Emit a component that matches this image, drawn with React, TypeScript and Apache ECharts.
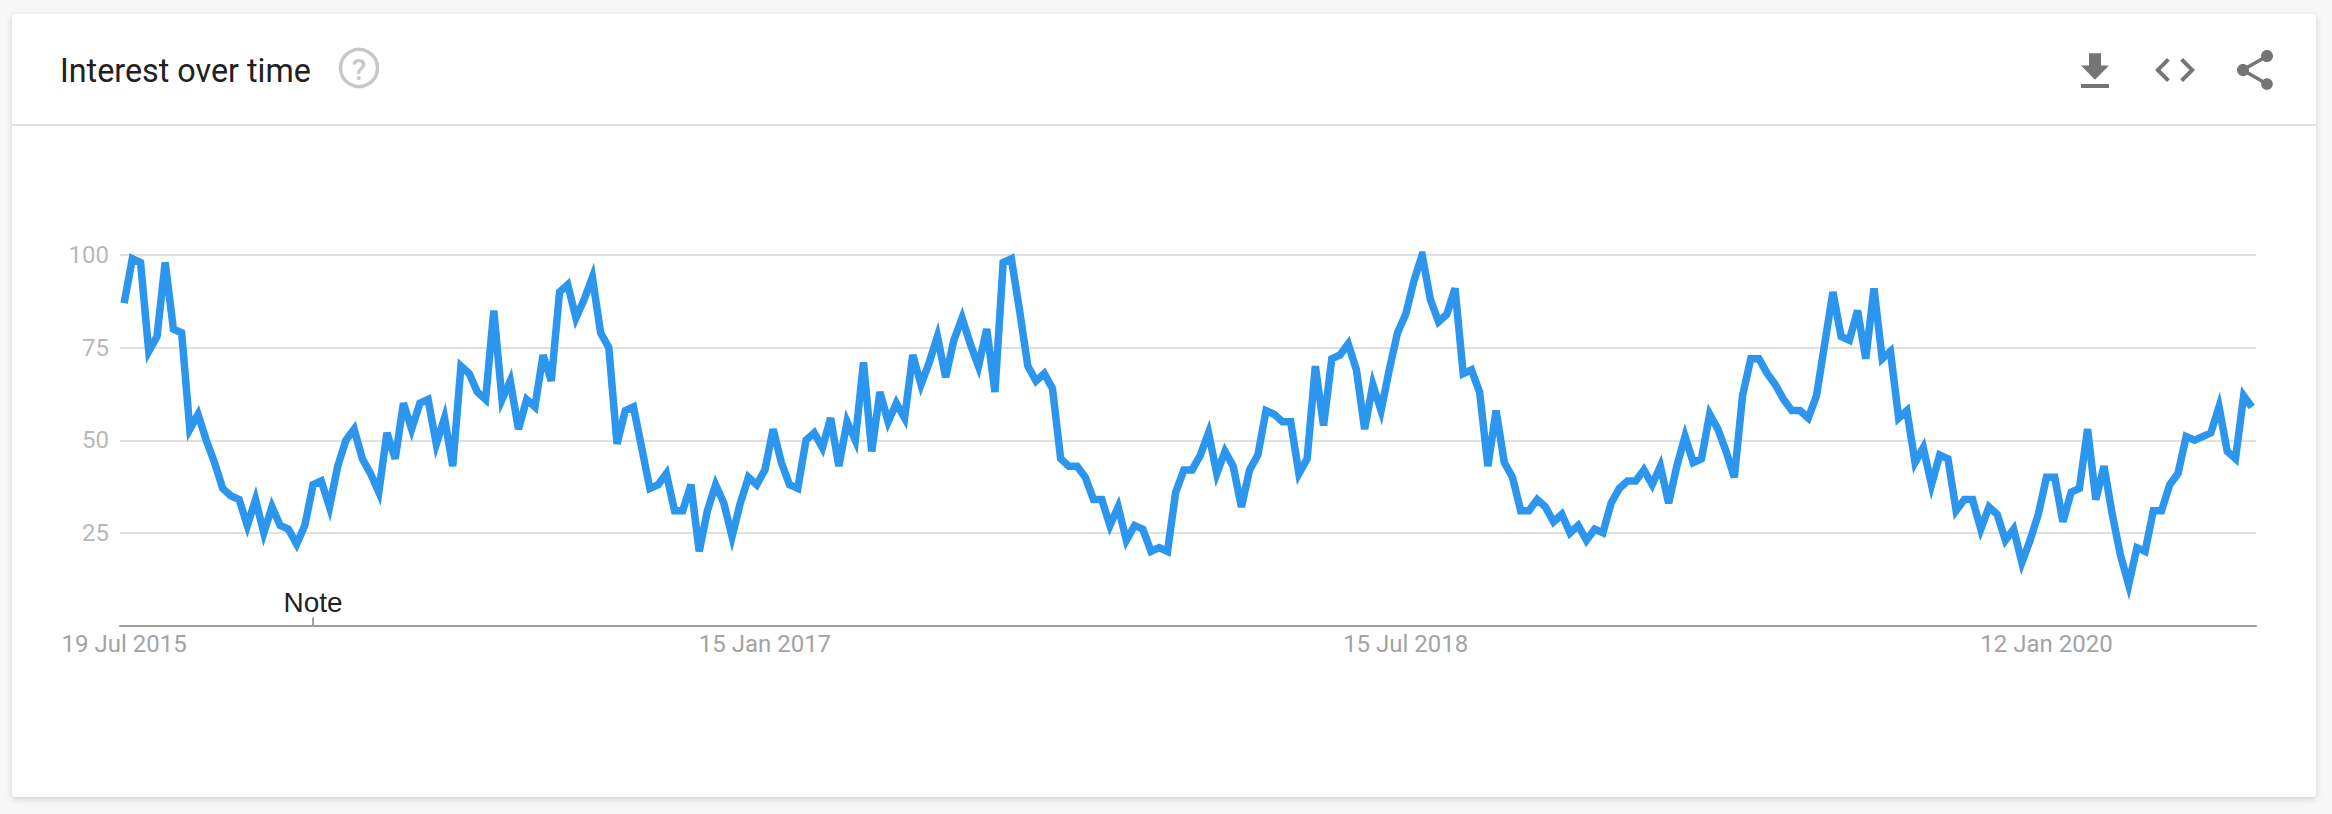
import React, { useEffect, useRef } from "react";
import * as echarts from "echarts";

const title = "Interest over time";
const startDate = Date.UTC(2015, 6, 19);
const monthNames = ["Jan", "Feb", "Mar", "Apr", "May", "Jun", "Jul", "Aug", "Sep", "Oct", "Nov", "Dec"];
const yTicks = [0, 25, 50, 75, 100];
const noteLabel = "Note";
const noteIndex = 23;
const labelledWeeks = [0, 78, 156, 234];

const interest = [
  87, 99, 98, 74, 78, 98, 80, 79, 53, 57, 50, 44, 37, 35, 34, 27, 34, 25, 32, 27,
  26, 22, 27, 38, 39, 32, 43, 50, 53, 45, 41, 36, 52, 45, 60, 53, 60, 61, 49, 56,
  43, 70, 68, 63, 61, 85, 61, 66, 53, 61, 59, 73, 66, 90, 92, 83, 88, 94, 79, 75,
  49, 58, 59, 48, 37, 38, 41, 31, 31, 38, 20, 31, 38, 33, 24, 33, 40, 38, 42, 53,
  44, 38, 37, 50, 52, 48, 56, 43, 55, 50, 71, 47, 63, 55, 60, 56, 73, 65, 71, 78,
  67, 77, 83, 76, 70, 80, 63, 98, 99, 85, 70, 66, 68, 64, 45, 43, 43, 40, 34, 34,
  27, 32, 23, 27, 26, 20, 21, 20, 36, 42, 42, 46, 52, 41, 47, 43, 32, 42, 46, 58,
  57, 55, 55, 41, 45, 70, 54, 72, 73, 76, 69, 53, 65, 58, 69, 79, 84, 93, 100, 88,
  82, 84, 91, 68, 69, 63, 43, 58, 44, 40, 31, 31, 34, 32, 28, 30, 25, 27, 23, 26,
  25, 33, 37, 39, 39, 42, 38, 43, 33, 43, 51, 44, 45, 57, 53, 47, 40, 62, 72, 72,
  68, 65, 61, 58, 58, 56, 62, 76, 90, 78, 77, 85, 72, 91, 72, 74, 56, 58, 44, 48,
  38, 46, 45, 31, 34, 34, 26, 32, 30, 23, 26, 17, 23, 30, 40, 40, 28, 36, 37, 53,
  34, 43, 30, 19, 11, 21, 20, 31, 31, 38, 41, 51, 50, 51, 52, 59, 47, 45, 62, 59,
];

const weeks = interest.map((_, i) => {
  const d = new Date(startDate + i * 7 * 86400000);
  return `${d.getUTCDate()} ${monthNames[d.getUTCMonth()]} ${d.getUTCFullYear()}`;
});

const downloadPath = "M19 9h-4V3H9v6H5l7 7 7-7zM5 18v2h14v-2H5z";
const codePath = "M9.4 16.6L4.8 12l4.6-4.6L8 6l-6 6 6 6 1.4-1.4zm5.2 0l4.6-4.6-4.6-4.6L16 6l6 6-6 6-1.4-1.4z";
const sharePath =
  "M18 16.08c-.76 0-1.44.3-1.96.77L8.91 12.7c.05-.23.09-.46.09-.7s-.04-.47-.09-.7l7.05-4.11c.54.5 1.25.81 2.04.81 1.66 0 3-1.34 3-3s-1.34-3-3-3-3 1.34-3 3c0 .24.04.47.09.7L8.04 9.81C7.5 9.31 6.79 9 6 9c-1.66 0-3 1.34-3 3s1.34 3 3 3c.79 0 1.5-.31 2.04-.81l7.12 4.16c-.05.21-.08.43-.08.65 0 1.61 1.31 2.92 2.92 2.92 1.61 0 2.92-1.31 2.92-2.92s-1.31-2.92-2.92-2.92z";

echarts.graphic.registerShape("iconDownload", echarts.graphic.extendPath(downloadPath, {}));
echarts.graphic.registerShape("iconCode", echarts.graphic.extendPath(codePath, {}));
echarts.graphic.registerShape("iconShare", echarts.graphic.extendPath(sharePath, {}));

export default function App() {
  const ref = useRef<HTMLDivElement>(null);
  useEffect(() => {
    const chart = echarts.init(ref.current!, undefined, { renderer: "svg", width: 2332, height: 814 });
    chart.setOption({
      animation: false,
      backgroundColor: "#f7f7f7",
      graphic: [
        {
          type: "rect",
          z: -10,
          shape: { x: 12, y: 14, width: 2304, height: 783, r: 4 },
          style: { fill: "#ffffff", shadowBlur: 6, shadowColor: "rgba(0,0,0,0.16)", shadowOffsetY: 2 },
        },
        { type: "rect", z: -9, shape: { x: 12, y: 124, width: 2304, height: 2 }, style: { fill: "#e0e0e0" } },
        {
          type: "text",
          x: 60,
          y: 71,
          style: {
            text: title,
            fontFamily: "Roboto",
            fontSize: 32.3,
            fill: "#212121",
            textAlign: "left",
            textVerticalAlign: "middle",
          },
        },
        {
          type: "circle",
          shape: { cx: 359, cy: 68, r: 18.5 },
          style: { fill: "none", stroke: "#c8c8c8", lineWidth: 3.5 },
        },
        {
          type: "text",
          x: 359,
          y: 69,
          style: {
            text: "?",
            fontFamily: "Roboto",
            fontWeight: 500,
            fontSize: 30,
            fill: "#c8c8c8",
            textAlign: "center",
            textVerticalAlign: "middle",
          },
        },
        { type: "iconDownload", x: 2071, y: 47, scaleX: 2, scaleY: 2.05, style: { fill: "#757575" } },
        { type: "iconCode", x: 2151, y: 46, scaleX: 2, scaleY: 2, style: { fill: "#757575" } },
        { type: "iconShare", x: 2231, y: 46, scaleX: 2, scaleY: 2, style: { fill: "#757575" } },
      ],
      grid: { left: 120, width: 2136, top: 255, height: 370.5, containLabel: false },
      xAxis: {
        type: "category",
        data: weeks,
        boundaryGap: true,
        axisLine: { show: true, lineStyle: { color: "#9e9e9e", width: 2 } },
        axisTick: { show: false },
        splitLine: { show: false },
        axisLabel: {
          color: "#a3a3a3",
          fontFamily: "Roboto",
          fontSize: 24,
          margin: 6,
          hideOverlap: false,
          interval: (i: number) => labelledWeeks.includes(i),
        },
      },
      yAxis: {
        type: "value",
        min: yTicks[0],
        max: yTicks[yTicks.length - 1],
        interval: 25,
        axisLine: { show: false },
        axisTick: { show: false },
        splitLine: { show: true, lineStyle: { color: "#e0e0e0", width: 2 } },
        axisLabel: {
          color: "#b8b8b8",
          fontFamily: "Roboto",
          fontSize: 24,
          margin: 11,
          formatter: (v: number) => (v === 0 ? "" : String(v)),
        },
      },
      series: [
        {
          type: "line",
          data: interest,
          showSymbol: false,
          symbol: "none",
          smooth: false,
          clip: true,
          lineStyle: { color: "#2c96ee", width: 7.5, join: "miter", miterLimit: 4.3, cap: "butt" },
          markPoint: {
            silent: true,
            symbol: "rect",
            symbolSize: [2, 8],
            symbolOffset: [0, -4],
            itemStyle: { color: "#9e9e9e" },
            label: {
              show: true,
              position: "top",
              distance: 1,
              formatter: noteLabel,
              color: "#222222",
              fontFamily: "Liberation Sans",
              fontSize: 28,
            },
            data: [{ coord: [weeks[noteIndex], 0] }],
          },
        },
      ],
    });
    return () => chart.dispose();
  }, []);
  return (
    <div
      ref={ref}
      style={{ position: "absolute", left: 0, top: 0, width: 2332, height: 814, overflow: "hidden" }}
    />
  );
}
